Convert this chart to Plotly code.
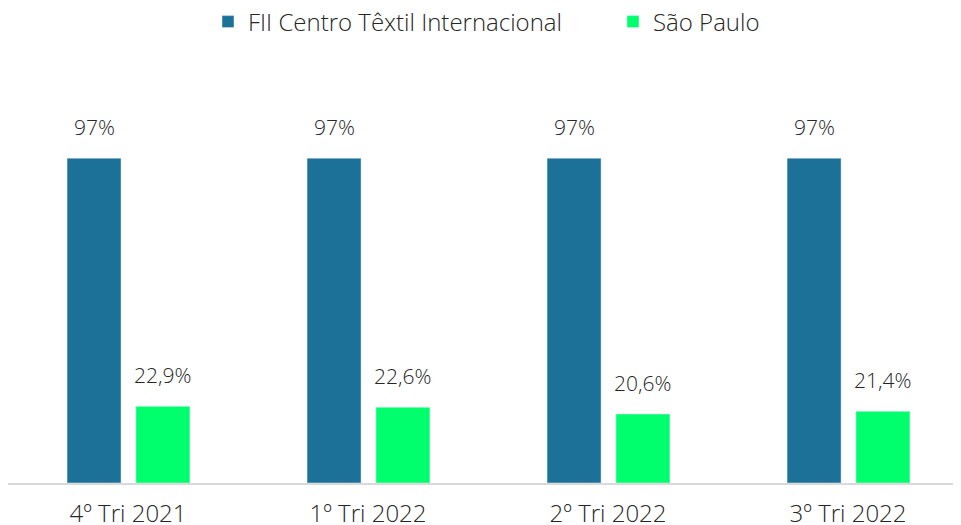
import plotly.graph_objects as go

categories = ["4º Tri 2021", "1º Tri 2022", "2º Tri 2022", "3º Tri 2022"]
fii_values = [97, 97, 97, 97]
sp_values = [22.9, 22.6, 20.6, 21.4]
fii_labels = ["97%", "97%", "97%", "97%"]
sp_labels = ["22,9%", "22,6%", "20,6%", "21,4%"]

BLUE = "#1C7198"
GREEN = "#00FF6C"
TXT = "#262626"
FONT = "Open Sans"
WT = 300

W = 0.225
OFF_B = -0.254
OFF_G = 0.033

fig = go.Figure()
fig.add_trace(go.Bar(name="FII Centro Têxtil Internacional", x=categories, y=fii_values,
                     marker_color=BLUE, width=W, offset=OFF_B))
fig.add_trace(go.Bar(name="São Paulo", x=categories, y=sp_values,
                     marker_color=GREEN, width=W, offset=OFF_G))

lab_font = dict(size=21, color=TXT, family=FONT, weight=WT)
tick_font = dict(size=24, color=TXT, family=FONT, weight=WT)
leg_font = dict(size=24, color=TXT, family=FONT, weight=WT)

for i, (v, t) in enumerate(zip(fii_values, fii_labels)):
    fig.add_annotation(x=i + OFF_B + W / 2, y=v, text=t, showarrow=False,
                       yanchor="bottom", yshift=15, font=lab_font)
for i, (v, t) in enumerate(zip(sp_values, sp_labels)):
    fig.add_annotation(x=i + OFF_G + W / 2, y=v, text=t, showarrow=False,
                       yanchor="bottom", yshift=15, font=lab_font)

fig.update_layout(
    width=961, height=525,
    margin=dict(l=0, r=0, t=52, b=50),
    plot_bgcolor="white", paper_bgcolor="white",
    barmode="group",
    font=dict(family=FONT, size=21, color=TXT, weight=WT),
    legend=dict(orientation="h", x=200 / 961, xanchor="left", y=1 - 14 / 525, yanchor="middle",
                xref="container", yref="container", font=leg_font, itemwidth=30,
                entrywidth=360, entrywidthmode="pixels",
                traceorder="normal"),
    showlegend=True,
)
fig.update_xaxes(type="category", range=[-0.5, 3.504], showline=True, linecolor="#D9D9D9",
                 linewidth=2, showgrid=False, ticks="", tickfont=tick_font,
                 ticklabelstandoff=8)
fig.update_yaxes(range=[0, 126.3], visible=False, showgrid=False, zeroline=False)

fig.write_html("out.html")
